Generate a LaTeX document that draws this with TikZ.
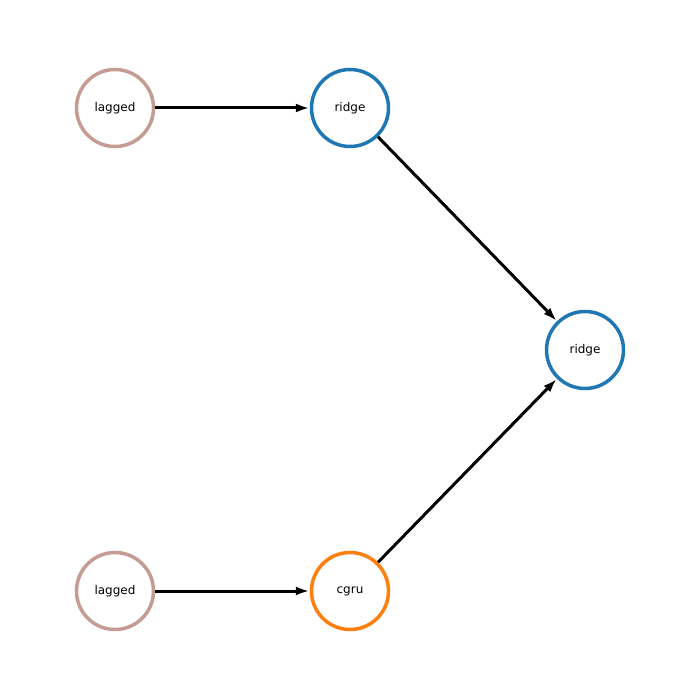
\documentclass[tikz,border=0pt]{standalone}
\usepackage{fontspec}
\setmainfont{DejaVu Sans}
\usetikzlibrary{arrows.meta}
\definecolor{lagc}{HTML}{C49C94}
\definecolor{ridgec}{HTML}{1F77B4}
\definecolor{cgruc}{HTML}{FF7F0E}
\tikzstyle{op}=[draw, shape=circle, line width=3.5pt, minimum size=77pt, inner sep=0pt, font=\fontsize{12}{14}\selectfont, fill=white]
\tikzset{>={Latex[length=14pt,width=9pt]}}

\begin{document}
\begin{tikzpicture}[x=1pt, y=-1pt]
\useasboundingbox (0,0) rectangle (700,700);
\node[op, draw=lagc] (L1) at (115,108) {lagged};
\node[op, draw=ridgec] (R1) at (350,108) {ridge};
\node[op, draw=ridgec] (R2) at (585,350) {ridge};
\node[op, draw=lagc] (L2) at (115,591) {lagged};
\node[op, draw=cgruc] (C1) at (350,591) {cgru};

\draw[->, line width=3pt] (L1) -- (R1);
\draw[->, line width=3pt] (R1) -- (R2);
\draw[->, line width=3pt] (L2) -- (C1);
\draw[->, line width=3pt] (C1) -- (R2);
\end{tikzpicture}
\end{document}
